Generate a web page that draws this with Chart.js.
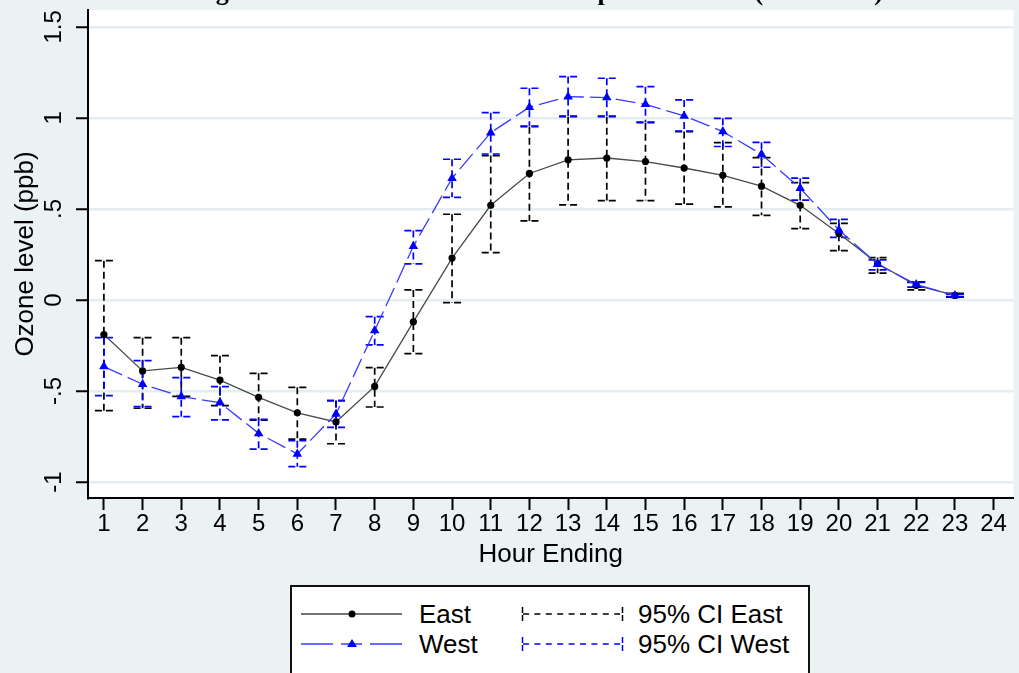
<!DOCTYPE html>
<html>
<head>
<meta charset="utf-8">
<script src="https://cdn.jsdelivr.net/npm/chart.js@4.4.0/dist/chart.umd.min.js"></script>
<style>
  html, body { margin: 0; padding: 0; background: #eaf2f3; }
  #wrap { position: relative; width: 1019px; height: 673px; overflow: hidden; }
  #legend {
    position: absolute; left: 290px; top: 585px; width: 520px; height: 120px;
    box-sizing: border-box; border: 2px solid #111; background: #fff;
    font-family: 'Liberation Sans', Arial, sans-serif; font-size: 26px; color: #000;
  }
  #legend svg, #legend span { position: absolute; }
  #legend span { line-height: 30px; white-space: nowrap; }
</style>
</head>
<body>
<div id="wrap">
  <canvas id="chartOzone" width="1019" height="673"></canvas>
  <div id="legend">
    <svg style="left:9px;top:19px" width="102" height="16">
      <line x1="0" y1="8" x2="101" y2="8" stroke="#444" stroke-width="1.3"/>
      <circle cx="51" cy="8" r="3.5" fill="#000"/>
    </svg>
    <span style="left:127px;top:12px">East</span>
    <svg style="left:229px;top:19px" width="104" height="16">
      <line x1="2" y1="8" x2="101" y2="8" stroke="#000" stroke-width="1.5" stroke-dasharray="6 5.4"/>
      <line x1="1.5" y1="1" x2="1.5" y2="15" stroke="#000" stroke-width="1.5" stroke-dasharray="6 2"/>
      <line x1="101.5" y1="1" x2="101.5" y2="15" stroke="#000" stroke-width="1.5" stroke-dasharray="6 2"/>
    </svg>
    <span style="left:346px;top:12px">95% CI East</span>

    <svg style="left:9px;top:49px" width="102" height="16">
      <line x1="0" y1="8" x2="101" y2="8" stroke="#3b3bff" stroke-width="1.3" stroke-dasharray="32 8 21 8 32"/>
      <polygon points="51,3 56,11 46,11" fill="#0000ff"/>
    </svg>
    <span style="left:127px;top:42px">West</span>
    <svg style="left:229px;top:49px" width="104" height="16">
      <line x1="2" y1="8" x2="101" y2="8" stroke="#0000ff" stroke-width="1.5" stroke-dasharray="6 5.4"/>
      <line x1="1.5" y1="1" x2="1.5" y2="15" stroke="#0000ff" stroke-width="1.5" stroke-dasharray="6 2"/>
      <line x1="101.5" y1="1" x2="101.5" y2="15" stroke="#0000ff" stroke-width="1.5" stroke-dasharray="6 2"/>
    </svg>
    <span style="left:346px;top:42px">95% CI West</span>
  </div>
</div>
<script>
// hourly ozone effect, East vs West, with 95% CIs

const hours = [1, 2, 3, 4, 5, 6, 7, 8, 9, 10, 11, 12, 13, 14, 15, 16, 17, 18, 19, 20, 21, 22, 23];
const xTicks = [1, 2, 3, 4, 5, 6, 7, 8, 9, 10, 11, 12, 13, 14, 15, 16, 17, 18, 19, 20, 21, 22, 23, 24];
const yTicks = [-1, -0.5, 0, 0.5, 1, 1.5];
const yTickLabels = ['-1', '-.5', '0', '.5', '1', '1.5'];

const eastMean = [-0.19, -0.39, -0.37, -0.44, -0.535, -0.62, -0.67, -0.475, -0.12, 0.23, 0.52, 0.695,
  0.77, 0.78, 0.76, 0.725, 0.685, 0.625, 0.52, 0.365, 0.20, 0.08, 0.025];
const eastLow = [-0.608, -0.595, -0.53, -0.58, -0.66, -0.765, -0.79, -0.588, -0.295, -0.015, 0.26, 0.434,
  0.522, 0.546, 0.546, 0.527, 0.511, 0.465, 0.392, 0.271, 0.147, 0.055, 0.015];
const eastHigh = [0.216, -0.207, -0.207, -0.306, -0.403, -0.48, -0.553, -0.372, 0.055, 0.471, 0.793, 0.952,
  1.007, 1.007, 0.974, 0.925, 0.864, 0.782, 0.645, 0.421, 0.233, 0.10, 0.036];

const westMean = [-0.366, -0.463, -0.531, -0.564, -0.733, -0.846, -0.626, -0.168, 0.295, 0.669, 0.919, 1.059,
  1.117, 1.112, 1.075, 1.011, 0.925, 0.80, 0.614, 0.385, 0.196, 0.085, 0.025];
const westLow = [-0.526, -0.586, -0.641, -0.659, -0.82, -0.916, -0.70, -0.247, 0.198, 0.564, 0.802, 0.955,
  1.01, 1.01, 0.977, 0.928, 0.843, 0.729, 0.549, 0.344, 0.165, 0.07, 0.018];
const westHigh = [-0.207, -0.333, -0.427, -0.476, -0.656, -0.773, -0.553, -0.092, 0.381, 0.773, 1.029, 1.163,
  1.227, 1.218, 1.172, 1.099, 0.998, 0.866, 0.669, 0.443, 0.22, 0.097, 0.032];

const titleText = 'Change in Mean Ozone Level after Temperature Rise (East/West)';

const FONT = "'Liberation Sans', Arial, sans-serif";

// white plot region
const plotBg = {
  id: 'plotBg',
  beforeDraw(chart) {
    const { ctx, chartArea: a } = chart;
    ctx.save();
    ctx.fillStyle = '#fff';
    ctx.fillRect(a.left, a.top, a.right - a.left, a.bottom - a.top);
    ctx.restore();
  }
};

// title sits above the visible area, only descenders show
const cutTitle = {
  id: 'cutTitle',
  afterDraw(chart) {
    const ctx = chart.ctx;
    ctx.save();
    ctx.font = "bold 26px 'Liberation Serif', 'Times New Roman', serif";
    ctx.fillStyle = '#000';
    ctx.textAlign = 'right';
    ctx.textBaseline = 'alphabetic';
    ctx.fillText(titleText, 883, 0);
    ctx.restore();
  }
};

// dashed capped CIs
const ciSets = [
  { low: eastLow, high: eastHigh, color: '#000' },
  { low: westLow, high: westHigh, color: '#0000ff' }
];
const errorBars = {
  id: 'errorBars',
  beforeDatasetsDraw(chart) {
    const { ctx, scales: { x, y } } = chart;
    ciSets.forEach(s => {
      ctx.save();
      ctx.strokeStyle = s.color;
      ctx.lineWidth = 1.7;
      ctx.setLineDash([7, 4]);
      hours.forEach((h, i) => {
        const px = x.getPixelForValue(h);
        const lo = y.getPixelForValue(s.low[i]);
        const hi = y.getPixelForValue(s.high[i]);
        ctx.beginPath();
        ctx.moveTo(px, hi); ctx.lineTo(px, lo);
        ctx.moveTo(px - 9, hi); ctx.lineTo(px + 9, hi);
        ctx.moveTo(px - 9, lo); ctx.lineTo(px + 9, lo);
        ctx.stroke();
      });
      ctx.restore();
    });
  }
};

const el = document.getElementById('chartOzone');
new Chart(el.getContext('2d'), {
  type: 'line',
  data: {
    datasets: [{
      label: 'West',
      data: hours.map((h, i) => ({ x: h, y: westMean[i] })),
      borderColor: '#3b3bff',
      borderWidth: 1.3,
      borderDash: [20, 6],
      pointStyle: 'triangle',
      pointRadius: 5.5,
      pointBorderWidth: 0,
      pointBackgroundColor: '#0000ff',
      tension: 0,
      order: 0
    }, {
      label: 'East',
      data: hours.map((h, i) => ({ x: h, y: eastMean[i] })),
      borderColor: '#4a4a4a',
      borderWidth: 1.3,
      pointStyle: 'circle',
      pointRadius: 3.6,
      pointBorderWidth: 0,
      pointBackgroundColor: '#000',
      tension: 0,
      order: 1
    }]
  },
  options: {
    responsive: false,
    animation: false,
    devicePixelRatio: 1,
    layout: { padding: { top: 10, right: 0, bottom: 103, left: 0 } },
    plugins: {
      legend: { display: false },
      tooltip: { enabled: false }
    },
    scales: {
      x: {
        type: 'linear',
        min: 0.589,
        max: 24.514,
        afterBuildTicks: (axis) => { axis.ticks = xTicks.map(v => ({ value: v })); },
        afterFit: (axis) => { axis.height = 72; axis.paddingLeft = 0; axis.paddingRight = 0; },
        grid: { drawOnChartArea: false, tickLength: 12, tickColor: '#000', tickWidth: 2 },
        border: { display: true, color: '#000', width: 2 },
        ticks: {
          autoSkip: false, maxRotation: 0, minRotation: 0, padding: 0,
          color: '#000', font: { family: FONT, size: 24 },
          callback: (v) => String(v)
        },
        title: {
          display: true, text: 'Hour Ending', color: '#000',
          font: { family: FONT, size: 26 }, padding: { top: 0, bottom: 0 }
        }
      },
      y: {
        type: 'linear',
        min: -1.088,
        max: 1.593,
        afterBuildTicks: (axis) => { axis.ticks = yTicks.map(v => ({ value: v })); },
        afterFit: (axis) => { axis.width = 88; axis.paddingTop = 0; axis.paddingBottom = 0; },
        grid: { color: '#e4edef', lineWidth: 2.5, tickLength: 12, tickColor: '#000', tickWidth: 2 },
        border: { display: true, color: '#000', width: 2 },
        ticks: {
          minRotation: 90, maxRotation: 90, crossAlign: 'center', padding: 5,
          color: '#000', font: { family: FONT, size: 24 },
          callback: (v, i) => yTickLabels[i]
        },
        title: {
          display: true, text: 'Ozone level (ppb)', color: '#000',
          font: { family: FONT, size: 26 }, padding: { top: 10, bottom: 0 }
        }
      }
    }
  },
  plugins: [plotBg, errorBars, cutTitle]
});
</script>
</body>
</html>
